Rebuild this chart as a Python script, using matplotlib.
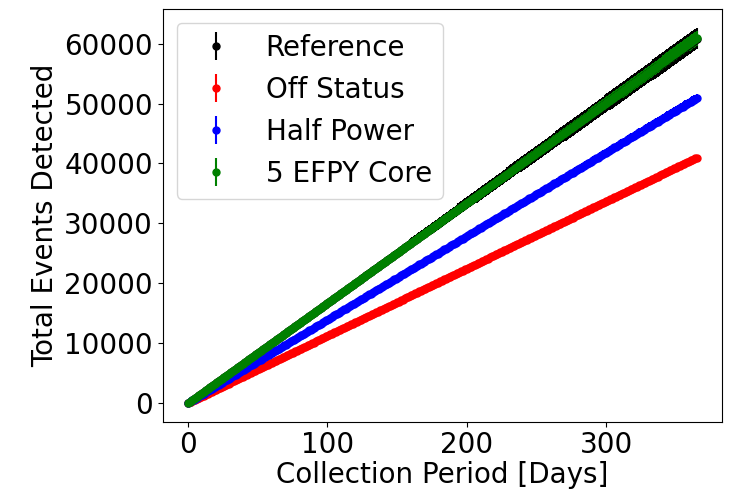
import numpy as np
import matplotlib
matplotlib.use("Agg")
import matplotlib.pyplot as plt

# collection period, one point per day
days = np.arange(0, 366)

# average detected events per day for each scenario
labels = ["Reference", "Off Status", "Half Power", "5 EFPY Core"]
colors = ["black", "red", "blue", "green"]
rates = [166.7, 112.2, 139.4, 166.8]
# relative uncertainty on the cumulative count
rel_err = [0.030, 0.004, 0.015, 0.020]

plt.rcParams["font.size"] = 20

fig = plt.figure(figsize=(7.3, 4.91), dpi=100)
ax = fig.add_axes([0.223, 0.141, 0.766, 0.841])

for lab, col, r, e in zip(labels, colors, rates, rel_err):
    total = r * days
    ax.errorbar(days, total, yerr=e * total, fmt=".", ms=10, color=col, label=lab)

ax.set_xlabel("Collection Period [Days]", labelpad=1)
ax.set_ylabel("Total Events Detected")
ax.set_xticks([0, 100, 200, 300])
ax.set_yticks(np.arange(0, 60001, 10000))
ax.legend(loc="upper left")

fig.savefig("out.png", dpi=100)
